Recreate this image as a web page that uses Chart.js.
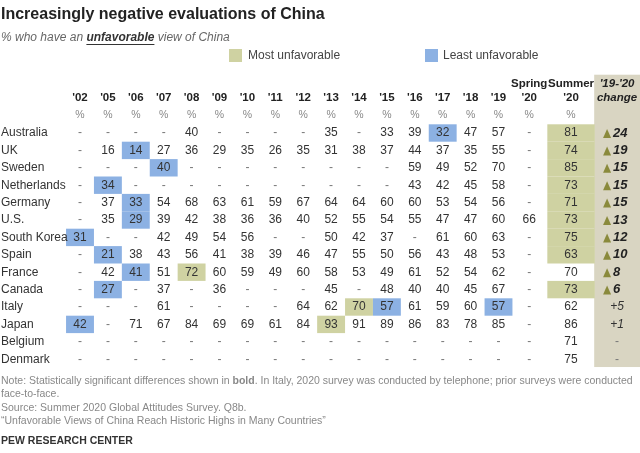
<!DOCTYPE html>
<html><head><meta charset="utf-8">
<script src="https://cdn.jsdelivr.net/npm/chart.js@4/dist/chart.umd.min.js"></script>
<style>html,body{margin:0;padding:0;background:#fff}#wrap{width:640px;height:453px;position:relative}</style>
</head><body><div id="wrap"><canvas id="chartCanvas" width="640" height="453"></canvas></div>
<script>
const countries = ["Australia","UK","Sweden","Netherlands","Germany","U.S.","South Korea","Spain","France","Canada","Italy","Japan","Belgium","Denmark"];
const years = ["'02","'05","'06","'07","'08","'09","'10","'11","'12","'13","'14","'15","'16","'17","'18","'19","'20","'20"];
const yearTops = ["","","","","","","","","","","","","","","","","Spring","Summer"];
// null = "-"
const values = [
  [null,null,null,null,40,null,null,null,null,35,null,33,39,32,47,57,null,81],
  [null,16,14,27,36,29,35,26,35,31,38,37,44,37,35,55,null,74],
  [null,null,null,40,null,null,null,null,null,null,null,null,59,49,52,70,null,85],
  [null,34,null,null,null,null,null,null,null,null,null,null,43,42,45,58,null,73],
  [null,37,33,54,68,63,61,59,67,64,64,60,60,53,54,56,null,71],
  [null,35,29,39,42,38,36,36,40,52,55,54,55,47,47,60,66,73],
  [31,null,null,42,49,54,56,null,null,50,42,37,null,61,60,63,null,75],
  [null,21,38,43,56,41,38,39,46,47,55,50,56,43,48,53,null,63],
  [null,42,41,51,72,60,59,49,60,58,53,49,61,52,54,62,null,70],
  [null,27,null,37,null,36,null,null,null,45,null,48,40,40,45,67,null,73],
  [null,null,null,61,null,null,null,null,64,62,70,57,61,59,60,57,null,62],
  [42,null,71,67,84,69,69,61,84,93,91,89,86,83,78,85,null,86],
  [null,null,null,null,null,null,null,null,null,null,null,null,null,null,null,null,null,71],
  [null,null,null,null,null,null,null,null,null,null,null,null,null,null,null,null,null,75]
];
const changes = [24,19,15,15,15,13,12,10,8,6,5,1,null,null];
const significant = [true,true,true,true,true,true,true,true,true,true,false,false,false,false];
// [row, column] of highlighted cells
const mostCells = [[8,4],[11,9],[10,10],[0,17],[1,17],[2,17],[3,17],[4,17],[5,17],[6,17],[7,17],[9,17]];
const leastCells = [[1,2],[2,3],[3,1],[4,2],[5,2],[6,0],[7,1],[8,2],[9,1],[10,11],[10,15],[11,0],[0,13]];

const colPos = years.map((y, i) => i < 16 ? i : (i === 16 ? 16.1 : 17.6));
const changePos = 19.25;
const GREEN = "#cfd2a2", BLUE = "#8cb1e3", TAN = "#d9d5c2", TXT = "#333";
const FONT = "'Liberation Sans', Arial, sans-serif";

const tablePlugin = {
  id: "table",
  beforeDatasetsDraw(chart) {
    const c = chart.ctx, xs = chart.scales.x, ys = chart.scales.y;
    const unitX = xs.getPixelForValue(1) - xs.getPixelForValue(0);
    const unitY = ys.getPixelForValue(1) - ys.getPixelForValue(0);
    c.fillStyle = TAN;
    const cx0 = xs.getPixelForValue(changePos - 0.82), cx1 = xs.getPixelForValue(changePos + 0.85);
    c.fillRect(cx0, ys.getPixelForValue(-3.35), cx1 - cx0, ys.getPixelForValue(13.45) - ys.getPixelForValue(-3.35));
    const box = (r, col, color) => {
      const w = col === 17 ? unitX * 1.7 : unitX;
      c.fillStyle = color;
      c.fillRect(xs.getPixelForValue(colPos[col]) - w / 2, ys.getPixelForValue(r) - unitY / 2, w, unitY);
    };
    mostCells.forEach(([r, col]) => box(r, col, GREEN));
    leastCells.forEach(([r, col]) => box(r, col, BLUE));

    c.textBaseline = "middle";
    c.textAlign = "center";
    years.forEach((y, i) => {
      const x = xs.getPixelForValue(colPos[i]);
      c.fillStyle = "#222";
      c.font = "bold 11.5px " + FONT;
      c.fillText(y, x, ys.getPixelForValue(-2));
      if (yearTops[i]) c.fillText(yearTops[i], x, ys.getPixelForValue(-2.8));
      c.fillStyle = "#888";
      c.font = "10.5px " + FONT;
      c.fillText("%", x, ys.getPixelForValue(-1));
    });
    c.fillStyle = "#222";
    c.font = "bold italic 11.5px " + FONT;
    c.fillText("'19-'20", xs.getPixelForValue(changePos), ys.getPixelForValue(-2.8));
    c.fillText("change", xs.getPixelForValue(changePos), ys.getPixelForValue(-2));

    countries.forEach((name, r) => {
      const y = ys.getPixelForValue(r);
      c.textAlign = "left";
      c.fillStyle = TXT;
      c.font = "12px " + FONT;
      c.fillText(name, 1, y);
      c.textAlign = "center";
      values[r].forEach((v, col) => {
        c.fillStyle = v === null ? "#777" : TXT;
        c.fillText(v === null ? "-" : String(v), xs.getPixelForValue(colPos[col]), y);
      });
      const ch = changes[r], x = xs.getPixelForValue(changePos);
      if (ch === null) { c.fillStyle = "#777"; c.fillText("-", x, y); }
      else if (significant[r]) {
        c.fillStyle = "#8a8a3c";
        c.beginPath();
        c.moveTo(x - 14, y + 5); c.lineTo(x - 6, y + 5); c.lineTo(x - 10, y - 4); c.closePath(); c.fill();
        c.fillStyle = "#222";
        c.font = "bold italic 13px " + FONT;
        c.textAlign = "left";
        c.fillText(String(ch), x - 4, y);
      } else {
        c.font = "italic 12px " + FONT;
        c.fillText("+" + ch, x, y);
      }
    });
  }
};

const headPlugin = {
  id: "head",
  afterDraw(chart) {
    const c = chart.ctx;
    c.textBaseline = "middle";
    c.textAlign = "left";
    c.fillStyle = "#222";
    c.font = "bold 16px " + FONT;
    c.fillText("Increasingly negative evaluations of China", 1, 15);
    c.font = "italic 12px " + FONT;
    c.fillStyle = "#666";
    let x = 1;
    c.fillText("% who have an ", x, 38); x += c.measureText("% who have an ").width;
    c.font = "bold italic 12px " + FONT;
    c.fillStyle = "#333";
    const uw = c.measureText("unfavorable").width;
    c.fillText("unfavorable", x, 38);
    c.fillRect(x, 44, uw, 1);
    x += uw;
    c.font = "italic 12px " + FONT;
    c.fillStyle = "#666";
    c.fillText(" view of China", x, 38);

    c.font = "12px " + FONT;
    c.fillStyle = GREEN; c.fillRect(229, 49, 13, 13);
    c.fillStyle = "#444"; c.fillText("Most unfavorable", 248, 56);
    c.fillStyle = BLUE; c.fillRect(425, 49, 13, 13);
    c.fillStyle = "#444"; c.fillText("Least unfavorable", 443, 56);

    c.font = "10.5px " + FONT;
    c.fillStyle = "#888";
    c.fillText("Note: Statistically significant differences shown in ", 1, 381);
    let nx = 1 + c.measureText("Note: Statistically significant differences shown in ").width;
    c.font = "bold 10.5px " + FONT;
    c.fillText("bold", nx, 381); nx += c.measureText("bold").width;
    c.font = "10.5px " + FONT;
    c.fillText(". In Italy, 2020 survey was conducted by telephone; prior surveys were conducted", nx, 381);
    c.fillText("face-to-face.", 1, 394);
    c.fillText("Source: Summer 2020 Global Attitudes Survey. Q8b.", 1, 408);
    c.fillText("\u201cUnfavorable Views of China Reach Historic Highs in Many Countries\u201d", 1, 421);
    c.font = "bold 10.5px " + FONT;
    c.fillStyle = "#333";
    c.fillText("PEW RESEARCH CENTER", 1, 441);
  }
};

new Chart(document.getElementById("chartCanvas").getContext("2d"), {
  type: "scatter",
  data: { datasets: [{ data: countries.map((n, r) => ({ x: -5, y: r })), pointRadius: 0 }] },
  options: {
    responsive: false, animation: false, events: [],
    layout: { padding: 0 },
    plugins: { legend: { display: false }, tooltip: { enabled: false } },
    scales: {
      x: { type: "linear", display: false, min: -80 / 27.9, max: 560 / 27.9 },
      y: { type: "linear", display: false, reverse: true, min: -133 / 17.4, max: 320 / 17.4 }
    }
  },
  plugins: [tablePlugin, headPlugin]
});
</script></body></html>
